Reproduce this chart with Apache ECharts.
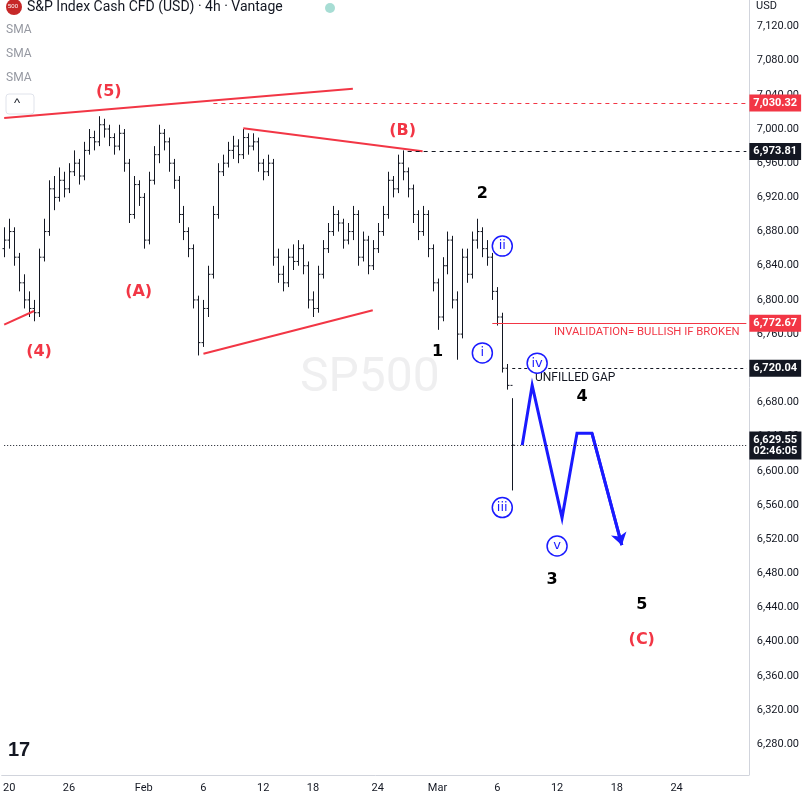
<!DOCTYPE html>
<html><head><meta charset="utf-8">
<script src="https://cdn.jsdelivr.net/npm/echarts@6/dist/echarts.min.js"></script>
<style>html,body{margin:0;padding:0;background:#fff}#c{width:802px;height:801px}</style>
</head><body><div id="c"></div>
<script>
const closes=[6870,6880,6850,6820,6800,6790,6785,6850,6880,6930,6920,6940,6930,6950,6960,6945,6975,6990,6985,7005,7000,6990,6980,6995,6960,6900,6935,6920,6870,6940,6970,6995,6985,6960,6940,6900,6880,6860,6800,6750,6790,6830,6900,6950,6960,6975,6980,6970,6990,6980,6985,6960,6950,6960,6850,6830,6820,6850,6845,6860,6840,6800,6790,6830,6860,6880,6900,6890,6870,6880,6900,6850,6870,6840,6860,6880,6900,6940,6930,6960,6950,6930,6900,6880,6900,6860,6820,6780,6840,6870,6800,6760,6850,6830,6870,6880,6860,6850,6810,6780,6720,6700,6630];
const highs=[6885,6895,6885,6855,6830,6810,6800,6860,6895,6940,6945,6955,6950,6960,6975,6965,6985,7000,6998,7015,7012,7005,6995,7005,7000,6965,6945,6940,6925,6950,6980,7005,7000,6990,6965,6945,6910,6885,6865,6805,6800,6840,6910,6960,6970,6985,6992,6988,7000,6995,6995,6990,6965,6970,6965,6860,6840,6860,6865,6870,6865,6845,6810,6840,6870,6890,6910,6905,6895,6890,6910,6905,6880,6875,6870,6890,6910,6950,6945,6970,6975,6955,6935,6905,6910,6905,6865,6825,6850,6880,6875,6810,6860,6860,6880,6895,6885,6870,6855,6815,6785,6725,6685];
const lows=[6850,6860,6840,6810,6790,6780,6775,6780,6845,6875,6905,6915,6920,6925,6945,6935,6940,6970,6975,6980,6990,6980,6970,6975,6950,6890,6895,6910,6860,6865,6935,6960,6975,6950,6930,6890,6870,6850,6790,6735,6745,6780,6825,6895,6945,6955,6965,6960,6965,6970,6975,6950,6940,6945,6840,6820,6810,6815,6835,6840,6830,6790,6780,6785,6825,6855,6875,6880,6860,6865,6870,6840,6845,6830,6835,6855,6875,6895,6920,6925,6940,6920,6890,6870,6875,6850,6810,6765,6775,6830,6790,6730,6755,6820,6825,6860,6850,6840,6800,6770,6715,6695,6577];
const firstOpen=6860;
const nCats=150;
const xLabels={1:'20',13:'26',28:'Feb',40:'6',52:'12',62:'18',75:'24',87:'Mar',99:'6',111:'12',123:'18',135:'24'};
const blueWave=[[104.1,6630],[106.1,6700],[111.5,6545],[114.5,6644],[117.7,6644],[123.9,6513]];
const redLabels=[['(5)',20.5,7043],['(A)',26.9,6809],['(4)',7.1,6739],['(B)',80.1,6998],['(C)',127.9,6402]];
const blackLabels=[['1',87.1,6739],['2',95.5,6924],['3',110.1,6472],['4',115.5,6686],['5',127.5,6443]];
const circled=[['i',96.3,6738],['ii',100.1,6863],['iii',99.9,6557],['iv',106.9,6726],['v',110.9,6512]];
const levels={r1:7030.32,b1:6973.81,inv:6772.67,gap:6720.04,cur:6629.55};

const cats=[];for(let i=0;i<nCats;i++)cats.push(i);
const ohlc=closes.map((c,i)=>[i,i===0?firstOpen:closes[i-1],c,lows[i],highs[i]]);
const fmt=v=>v.toLocaleString('en-US',{minimumFractionDigits:2,maximumFractionDigits:2});
const red='#f23645',blue='#1a1aff',ink='#131722';
const chart=echarts.init(document.getElementById('c'));
function lvl(y,x0,color,type,lblBg,lblText){
  return [{coord:[x0,y],lineStyle:{color:color,type:type,width:1},label:{show:true,position:'end',formatter:lblText,backgroundColor:lblBg,color:'#fff',fontSize:11,fontWeight:'bold',padding:[3,4],distance:3,fontFamily:'Roboto'}},{coord:[nCats-1,y]}];
}
const lblFont='DejaVu Sans';
chart.setOption({
  animation:false,
  grid:{left:0,right:52,top:0,bottom:26},
  xAxis:{type:'category',data:cats,boundaryGap:true,
    axisLine:{lineStyle:{color:'#d1d4dc'}},axisTick:{show:false},
    axisLabel:{interval:(i)=>xLabels[i]!==undefined,formatter:(v,i)=>xLabels[i]||'',color:ink,fontSize:11,fontFamily:'Roboto',margin:8},
    splitLine:{show:false}},
  yAxis:{type:'value',position:'right',min:6244,max:7151,
    axisLine:{show:true,lineStyle:{color:'#d1d4dc'}},axisTick:{show:false},
    axisLabel:{color:ink,fontSize:11,fontFamily:'Roboto',margin:8,
      customValues:[6280,6320,6360,6400,6440,6480,6520,6560,6600,6640,6680,6720,6760,6800,6840,6880,6920,6960,7000,7040,7080,7120],
      formatter:v=>v.toLocaleString('en-US',{minimumFractionDigits:2})},
    splitLine:{show:false}},
  graphic:[
    {type:'text',left:300,top:355,style:{text:'SP500',fill:'rgba(120,123,134,0.12)',fontSize:48,fontFamily:'Roboto'}},
    {type:'circle',shape:{cx:14,cy:7,r:8},style:{fill:'#c62828'}},
    {type:'text',left:8,top:3,style:{text:'500',fill:'#fff',fontSize:6}},
    {type:'text',left:27,top:0,style:{text:'S&P Index Cash CFD (USD) · 4h · Vantage',fill:ink,fontSize:14,fontFamily:'Roboto'}},
    {type:'circle',shape:{cx:330,cy:8,r:5},style:{fill:'#22ab94',opacity:0.4}},
    {type:'text',left:6,top:24,style:{text:'SMA',fill:'#9598a1',fontSize:12,fontFamily:'Roboto'}},
    {type:'text',left:6,top:48,style:{text:'SMA',fill:'#9598a1',fontSize:12,fontFamily:'Roboto'}},
    {type:'text',left:6,top:72,style:{text:'SMA',fill:'#9598a1',fontSize:12,fontFamily:'Roboto'}},
    {type:'rect',shape:{x:6,y:94,width:28,height:20,r:3},style:{fill:'#fff',stroke:'#e0e3eb'}},
    {type:'text',left:14,top:97,style:{text:'^',fill:ink,fontSize:13}},
    {type:'text',left:756,top:1,style:{text:'USD',fill:ink,fontSize:11,fontFamily:'Roboto'}},
    {type:'text',left:8,top:740,style:{text:'17',fill:ink,fontSize:20,fontWeight:'bold'}},
    {type:'text',left:535,top:372,style:{text:'UNFILLED GAP',fill:ink,fontSize:12,fontFamily:'Roboto'}},
    {type:'text',left:554,top:327,style:{text:'INVALIDATION= BULLISH IF BROKEN',fill:red,fontSize:11.3,fontFamily:'Roboto'}}
  ],
  series:[
    {type:'custom',data:ohlc,encode:{x:0,y:[1,2,3,4]},silent:true,
     renderItem:(params,api)=>{
       const x=api.value(0);
       const o=api.coord([x,api.value(1)]),c=api.coord([x,api.value(2)]),l=api.coord([x,api.value(3)]),h=api.coord([x,api.value(4)]);
       const px=Math.round(o[0])+0.5;
       const st={stroke:ink,lineWidth:1};
       return {type:'group',children:[
         {type:'line',shape:{x1:px,y1:h[1],x2:px,y2:l[1]},style:st},
         {type:'line',shape:{x1:px-2,y1:o[1],x2:px,y2:o[1]},style:st},
         {type:'line',shape:{x1:px,y1:c[1],x2:px+2,y2:c[1]},style:st}]};
     }},
    {type:'line',data:[],markLine:{symbol:'none',silent:true,data:[
       lvl(levels.r1,41.5,red,[4,4],red,fmt(levels.r1)),
       lvl(levels.b1,80.5,ink,[4,4],ink,fmt(levels.b1)),
       lvl(levels.inv,97.5,red,'solid',red,fmt(levels.inv)),
       lvl(levels.gap,101.5,ink,[3,3],ink,fmt(levels.gap)),
       lvl(levels.cur,0,ink,[1,2],ink,fmt(levels.cur)+'\n02:46:05')
     ]}},
    {type:'lines',coordinateSystem:'cartesian2d',silent:true,
     lineStyle:{color:red,width:2,opacity:1},symbol:'none',
     data:[{coords:[[-0.5,7013],[69.9,7047]]},{coords:[[-0.5,6771],[6,6787]]},{coords:[[47.9,7001],[83.5,6974]]},{coords:[[39.5,6737],[74.3,6788]]}]},
    {type:'lines',coordinateSystem:'cartesian2d',polyline:true,silent:true,
     lineStyle:{color:blue,width:3,opacity:1},symbol:'none',
     data:[{coords:blueWave}]},
    {type:'lines',coordinateSystem:'cartesian2d',silent:true,
     lineStyle:{color:blue,width:3,opacity:1},symbol:['none','arrow'],symbolSize:12,
     data:[{coords:[blueWave[blueWave.length-2],blueWave[blueWave.length-1]]}]},
    {type:'scatter',symbolSize:0,silent:true,z:5,itemStyle:{opacity:1},
     data:redLabels.map(d=>({value:[d[1],d[2]],name:d[0]})),
     label:{show:true,position:'inside',formatter:p=>p.name,color:red,opacity:1,fontSize:16,fontWeight:'bold',fontFamily:lblFont}},
    {type:'scatter',symbolSize:0,silent:true,z:5,itemStyle:{opacity:1},
     data:blackLabels.map(d=>({value:[d[1],d[2]],name:d[0]})),
     label:{show:true,position:'inside',formatter:p=>p.name,color:'#000',opacity:1,fontSize:16,fontWeight:'bold',fontFamily:lblFont}},
    {type:'scatter',symbol:'circle',symbolSize:20,silent:true,z:5,
     itemStyle:{color:'#fff',borderColor:blue,borderWidth:1.5,opacity:1},
     data:circled.map(d=>({value:[d[1],d[2]],name:d[0]})),
     label:{show:true,position:'inside',formatter:p=>p.name,color:blue,fontSize:13,fontFamily:lblFont}}
  ]
});
</script></body></html>
